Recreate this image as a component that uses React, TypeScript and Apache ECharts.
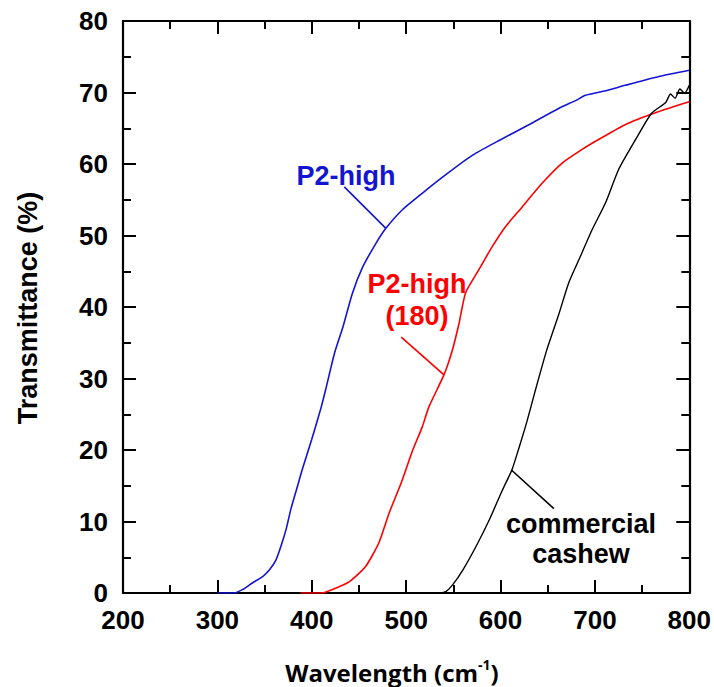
import React, { useEffect, useRef } from "react";
import * as echarts from "echarts";

// Wavelength (x) and transmittance (%) values
const p2HighWavelength = [300, 310, 318, 327, 337, 348, 355, 362, 367.5, 373, 378, 385, 390, 400, 410, 415, 424, 433, 443, 454, 468, 478.5, 496, 517, 542, 570, 600, 630, 662, 680, 690, 710, 732, 767, 800];
const p2HighTransmittance = [0, 0, 0, 0.5, 1.4, 2.3, 3.2, 4.6, 6.6, 9.0, 11.8, 15, 17.3, 21.5, 26, 28.6, 33.5, 37.2, 41.9, 45.6, 48.9, 51.0, 53.6, 55.9, 58.5, 61.2, 63.4, 65.5, 67.8, 68.9, 69.6, 70.2, 71.0, 72.2, 73.1];

const p2High180Wavelength = [388, 400, 410, 422, 440, 457, 471, 482, 495, 507, 517, 524, 540, 549, 556, 563, 577, 591, 605, 623, 644, 665, 686, 697, 732, 767, 800];
const p2High180Transmittance = [0, 0, 0, 0.5, 1.6, 3.7, 7, 11.2, 15.5, 20, 23.2, 26, 30.5, 34, 37.7, 42, 45.2, 48.4, 51.2, 54, 57.3, 60.1, 62, 62.9, 65.5, 67.3, 68.7];

const cashewWavelength = [535, 542, 549, 560, 574, 588, 602, 612, 620, 628, 637, 649, 662, 672, 683, 697, 711, 725, 743, 760, 775, 780, 785, 790, 795, 800];
const cashewTransmittance = [0, 0.2, 1.1, 3.2, 6.5, 10.2, 14.4, 17.2, 20.5, 24, 28.4, 34, 39.1, 43.3, 46.6, 50.8, 54.5, 59.2, 63.4, 67.1, 68.6, 69.8, 69.2, 70.5, 69.9, 71];

const xTicks = { min: 200, max: 800, interval: 100 };
const yTicks = { min: 0, max: 80, interval: 10 };

const seriesNames = ["P2-high", "P2-high (180)", "commercial cashew"];

// pointer lines (data coords): [start, end]
const p2HighPointer = [[434.5, 56.8], [478.5, 51.0]];
const p2High180Pointer = [[494.8, 35.8], [540.1, 30.5]];
const cashewPointer = [[611.5, 17.2], [656.5, 11.8]];

const BLUE = "#1414d4";
const RED = "#ff0000";
const BLACK = "#000000";
const FONT = "'Liberation Sans', Arial, sans-serif";
const TITLE_FONT = "'Open Sans', 'Noto Sans', sans-serif";

function zip(a: number[], b: number[]) {
  return a.map((v, i) => [v, b[i]]);
}

function pointer(p: number[][], color: string) {
  return {
    symbol: "none",
    silent: true,
    label: { show: false },
    lineStyle: { color, width: 1.6, type: "solid" },
    data: [[{ coord: p[0] }, { coord: p[1] }]],
  };
}

export default function App() {
  const ref = useRef<HTMLDivElement>(null);
  useEffect(() => {
    if (!ref.current) return;
    const chart = echarts.init(ref.current, null, { renderer: "svg" });
    const axisLine = { show: true, onZero: false, lineStyle: { color: "#000", width: 2.2 } };
    const axisTick = { show: true, inside: true, length: 13, lineStyle: { color: "#000", width: 2 } };
    const minorTick = { show: true, splitNumber: 2, length: 8, lineStyle: { color: "#000", width: 2 } };
    const label = { color: "#000", fontSize: 26, fontWeight: "bold", fontFamily: FONT };
    const lineCommon = { type: "line", showSymbol: false, symbol: "none", smooth: 0.2 };
    chart.setOption({
      animation: false,
      backgroundColor: "#fff",
      grid: { left: 123, right: 23, top: 21, bottom: 94, containLabel: false },
      xAxis: [
        {
          type: "value", position: "bottom", ...xTicks,
          axisLine, axisTick, minorTick,
          splitLine: { show: false },
          axisLabel: { ...label, margin: 14 },
        },
        {
          type: "value", position: "top", ...xTicks,
          axisLine, axisTick, minorTick,
          splitLine: { show: false },
          axisLabel: { show: false },
        },
      ],
      yAxis: [
        {
          type: "value", position: "left", ...yTicks,
          axisLine, axisTick, minorTick,
          splitLine: { show: false },
          axisLabel: { ...label, margin: 15 },
        },
        {
          type: "value", position: "right", ...yTicks,
          axisLine, axisTick, minorTick,
          splitLine: { show: false },
          axisLabel: { show: false },
        },
      ],
      series: [
        {
          ...lineCommon, name: seriesNames[0],
          data: zip(p2HighWavelength, p2HighTransmittance),
          lineStyle: { color: BLUE, width: 1.6 }, itemStyle: { color: BLUE },
          markLine: pointer(p2HighPointer, BLUE),
        },
        {
          ...lineCommon, name: seriesNames[1],
          data: zip(p2High180Wavelength, p2High180Transmittance),
          lineStyle: { color: RED, width: 1.6 }, itemStyle: { color: RED },
          markLine: pointer(p2High180Pointer, RED),
        },
        {
          ...lineCommon, name: seriesNames[2],
          data: zip(cashewWavelength, cashewTransmittance),
          lineStyle: { color: BLACK, width: 1.4 }, itemStyle: { color: BLACK },
          markLine: pointer(cashewPointer, BLACK),
        },
      ],
      graphic: [
        {
          type: "text", x: 346, y: 176,
          style: { text: "P2-high", fill: BLUE, font: `bold 27px ${FONT}`, align: "center", verticalAlign: "middle" },
        },
        {
          type: "text", x: 417, y: 300,
          style: { text: "P2-high\n(180)", fill: RED, font: `bold 27px ${FONT}`, align: "center", verticalAlign: "middle", lineHeight: 32 },
        },
        {
          type: "text", x: 581, y: 539,
          style: { text: "commercial\ncashew", fill: BLACK, font: `bold 27px ${FONT}`, align: "center", verticalAlign: "middle", lineHeight: 30 },
        },
        {
          type: "text", x: 28, y: 308, rotation: Math.PI / 2,
          style: { text: "Transmittance (%)", fill: BLACK, font: `bold 27px ${FONT}`, align: "center", verticalAlign: "middle" },
        },
        {
          type: "text", x: 392, y: 672,
          style: {
            text: "{a|Wavelength (cm}{s|-1}{a|)}",
            align: "center", verticalAlign: "middle",
            rich: {
              a: { fontSize: 24, fontWeight: "bold", fontFamily: TITLE_FONT, fill: BLACK, lineHeight: 30 },
              s: { fontSize: 14, fontWeight: "bold", fontFamily: TITLE_FONT, fill: BLACK, verticalAlign: "top", lineHeight: 30 },
            },
          },
        },
      ],
    });
    return () => chart.dispose();
  }, []);
  return <div ref={ref} style={{ position: "fixed", left: 0, top: 0, width: 714, height: 687 }} />;
}
